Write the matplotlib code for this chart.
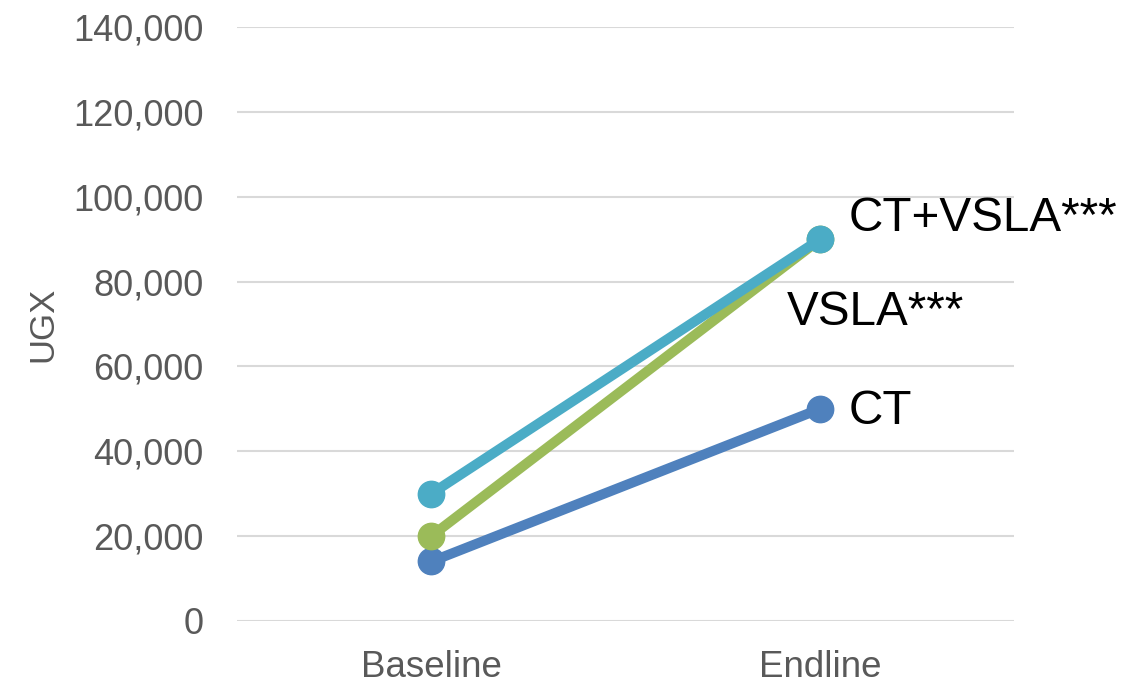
import matplotlib
matplotlib.use("Agg")
import matplotlib.pyplot as plt
from matplotlib.ticker import FuncFormatter

plt.rcParams['font.family'] = ['Liberation Sans', 'DejaVu Sans']

# average amounts (UGX) per group
rounds = ['Baseline', 'Endline']
ct = [14000, 50000]
vsla = [20000, 90000]
ct_vsla = [30000, 90000]

groups = ['CT', 'VSLA***', 'CT+VSLA***']
series = [ct, vsla, ct_vsla]
colors = ['#4F81BD', '#9BBB59', '#4BACC6']
# label offsets from the endline point, in pixels
offsets = [(29, -3), (-33, -73), (29, 21)]

fig = plt.figure(figsize=(11.45, 6.83), dpi=100)
ax = fig.add_axes([0.207, 0.091, 0.679, 0.869])

x = range(len(rounds))
for name, vals, c, off in zip(groups, series, colors, offsets):
    ax.plot(x, vals, color=c, lw=7.2, marker='o', ms=19,
            solid_capstyle='round', zorder=3)
    ax.annotate(name, (x[-1], vals[-1]), xytext=(off[0] * 0.72, off[1] * 0.72),
                textcoords='offset points', ha='left', va='center',
                fontsize=34.3, color='black')

ax.set_xlim(-0.5, 1.5)
ax.set_ylim(0, 140000)
ax.set_yticks(range(0, 140001, 20000))
ax.yaxis.set_major_formatter(FuncFormatter(lambda v, p: f'{int(v):,}'))
ax.set_xticks(list(x))
ax.set_xticklabels(rounds)

ax.grid(axis='y', color='#d9d9d9', lw=1.5, zorder=0)
ax.set_axisbelow(True)
for s in ax.spines.values():
    s.set_visible(False)
ax.tick_params(axis='y', length=0, pad=24, labelsize=26, labelcolor='#595959')
ax.tick_params(axis='x', length=0, pad=21, labelsize=26.5, labelcolor='#595959')

ax.set_ylabel('UGX', fontsize=25, color='#595959')
ax.yaxis.set_label_coords(-0.228, 0.5)

fig.savefig('out.png', dpi=100)
